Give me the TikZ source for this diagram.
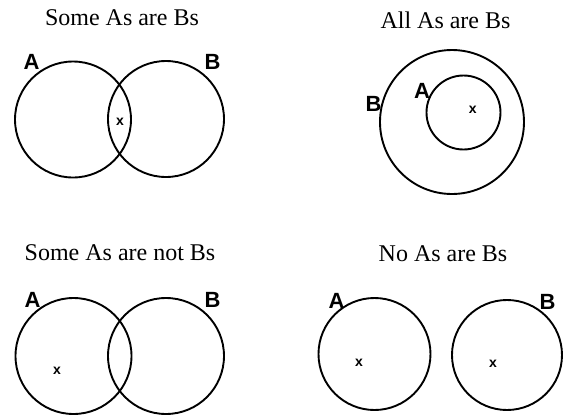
\documentclass[tikz,border=0pt]{standalone}
\usepackage{fontspec}
\setmainfont{Liberation Serif}
\newfontfamily\letrafont{Liberation Sans}
\usetikzlibrary{positioning}

\begin{document}
\begin{tikzpicture}[x=0.5pt, y=-0.5pt,
        titulo/.style={font=\fontsize{12}{14}\selectfont, inner sep=0pt},
        conjunto/.style={circle, draw, line width=0.95pt, inner sep=0pt},
        letra/.style={font=\letrafont\bfseries\fontsize{11}{13}\selectfont, inner sep=0pt},
        marca/.style={font=\letrafont\bfseries\fontsize{7}{8}\selectfont, inner sep=0pt}]
        \useasboundingbox (0,0) rectangle (564,419);
        % Some As are Bs
        \node[titulo] (t1) at (122,18) {Some As are Bs};
        \node[conjunto, minimum size=58pt] (a1) at (73,119.5) {};
        \node[conjunto, minimum size=58pt] (b1) at (166,119) {};
        \node[letra] (la1) at (31.5,62) {A};
        \node[letra] (lb1) at (212.5,62) {B};
        \node[marca] (x1) at (120,122) {x};
        % All As are Bs
        \node[titulo] (t2) at (445.5,20) {All As are Bs};
        \node[conjunto, minimum size=72pt] (b2) at (452,122) {};
        \node[conjunto, minimum size=37pt] (a2) at (463.5,112.5) {};
        \node[letra] (lb2) at (373.5,103.5) {B};
        \node[letra] (la2) at (422,90.5) {A};
        \node[marca] (x2) at (472.7,110) {x};
        % Some As are not Bs
        \node[titulo] (t3) at (120,253) {Some As are not Bs};
        \node[conjunto, minimum size=58pt] (a3) at (73.5,356) {};
        \node[conjunto, minimum size=58pt] (b3) at (166,356) {};
        \node[letra] (la3) at (32.5,300) {A};
        \node[letra] (lb3) at (212.5,300) {B};
        \node[marca] (x3) at (57,371) {x};
        % No As are Bs
        \node[titulo] (t4) at (443,254) {No As are Bs};
        \node[conjunto, minimum size=56pt] (a4) at (374.5,354) {};
        \node[conjunto, minimum size=55pt] (b4) at (507,355) {};
        \node[letra] (la4) at (336.5,300.5) {A};
        \node[letra] (lb4) at (547.5,301.5) {B};
        \node[marca] (x4a) at (359,363) {x};
        \node[marca] (x4b) at (493,364) {x};
    \end{tikzpicture}
\end{document}
